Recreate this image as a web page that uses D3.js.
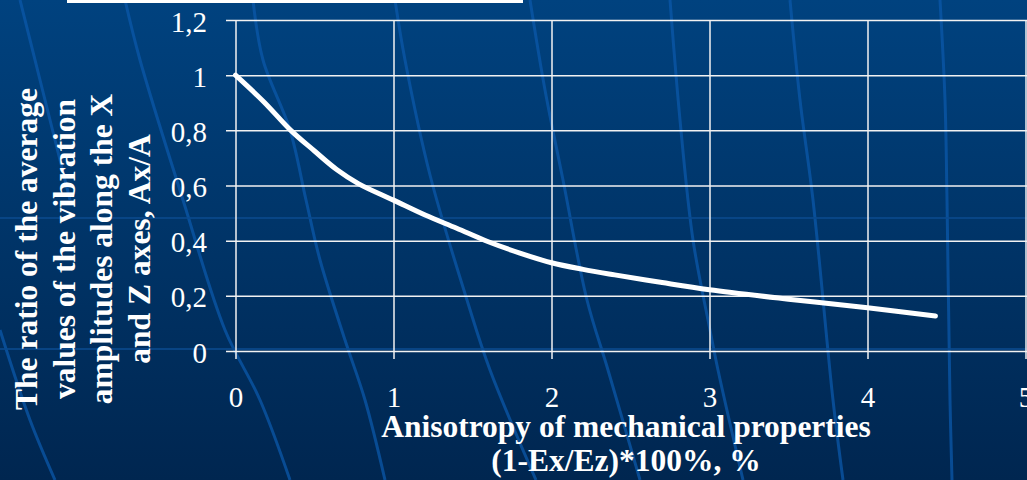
<!DOCTYPE html>
<html>
<head>
<meta charset="utf-8">
<script src="https://cdn.jsdelivr.net/npm/d3@7"></script>
<style>
  html, body { margin: 0; padding: 0; background: #003466; }
  svg { display: block; }
</style>
</head>
<body>
<svg id="chart" width="1027" height="480"></svg>
<script>
// ---- data ----
const anisotropy = [0, 0.18, 0.35, 0.5, 0.64, 0.78, 1.0, 1.2, 1.4, 1.6, 1.8, 2.0, 2.2, 2.4, 2.7, 3.0, 3.5, 4.0, 4.43];
const ratio      = [1.0, 0.903, 0.80, 0.725, 0.658, 0.606, 0.547, 0.493, 0.445, 0.396, 0.355, 0.320, 0.296, 0.276, 0.248, 0.222, 0.188, 0.157, 0.127];
const xTicks = [0, 1, 2, 3, 4, 5];
const xTickLabels = ["0", "1", "2", "3", "4", "5"];
const yTicks = [0, 0.2, 0.4, 0.6, 0.8, 1.0, 1.2];
const yTickLabels = ["0", "0,2", "0,4", "0,6", "0,8", "1", "1,2"];
const yTitleLines = ["The ratio of the average", "values of the vibration", "amplitudes along the X", "and Z axes, Ax/A"];
const xTitleLines = ["Anisotropy of mechanical properties", "(1-Ex/Ez)*100%, %"];

// decorative background streaks (slide template)
const streaks = [
  [[125,0],[140,60],[183,200],[225,330],[260,400],[290,480]],
  [[253,0],[263,60],[290,130],[306,200],[320,260],[345,340],[365,400],[385,480]],
  [[395,0],[405,60],[430,175],[467,300],[490,370],[536,480]],
  [[530,0],[545,90],[563,180],[587,300],[608,370],[640,480]],
  [[670,0],[680,120],[693,240],[710,330],[718,370],[743,480]],
  [[790,0],[800,100],[813,200],[833,400],[843,480]],
  [[940,0],[945,100],[947,200],[950,400],[952,480]],
  [[0,330],[30,420],[55,480]],
  [[20,0],[40,80],[70,200]]
];

const W = 1027, H = 480;
const svg = d3.select("#chart");

// background
const defs = svg.append("defs");
const grad = defs.append("linearGradient").attr("id", "bg").attr("x1", 0).attr("y1", 0).attr("x2", 0).attr("y2", 1);
grad.append("stop").attr("offset", "0%").attr("stop-color", "#00427f");
grad.append("stop").attr("offset", "100%").attr("stop-color", "#002650");
svg.append("rect").attr("width", W).attr("height", H).attr("fill", "url(#bg)");

const lineGen = d3.line().curve(d3.curveCatmullRom);
svg.append("g").selectAll("path").data(streaks).join("path")
  .attr("d", d => lineGen(d))
  .attr("fill", "none")
  .attr("stroke", "#0b58aa")
  .attr("stroke-width", 3)
  .attr("opacity", 0.75);

svg.append("g").selectAll("line").data([218, 349]).join("line")
  .attr("x1", 0).attr("x2", W).attr("y1", d => d).attr("y2", d => d)
  .attr("stroke", "#0a4a8e").attr("stroke-width", 2).attr("opacity", 0.8);

// top white strip
svg.append("rect").attr("x", 67).attr("y", 0).attr("width", 456).attr("height", 3).attr("fill", "#ffffff");

// scales
const x = d3.scaleLinear().domain([0, 5]).range([235.5, 1025.5]);
const y = d3.scaleLinear().domain([0, 1.2]).range([351, 20]);

const font = "'Liberation Serif', 'Times New Roman', serif";

// y axis with gridlines
const yAxis = d3.axisLeft(y)
  .tickValues(yTicks)
  .tickFormat((d, i) => yTickLabels[i])
  .tickSize(-(W - 226))
  .tickPadding(19);
const gy = svg.append("g").attr("transform", "translate(226,0)").call(yAxis);
gy.select(".domain").remove();
gy.selectAll(".tick line").attr("stroke", "#f2f2f2").attr("stroke-width", 1.5);
gy.selectAll(".tick text")
  .attr("fill", "#ffffff")
  .attr("font-family", font)
  .attr("font-size", 29)
  .attr("dy", "0.38em");

// x axis with gridlines
const xAxis = d3.axisBottom(x)
  .tickValues(xTicks)
  .tickFormat((d, i) => xTickLabels[i])
  .tickSize(-(359 - 20))
  .tickPadding(27);
const gx = svg.append("g").attr("transform", "translate(0,359)").call(xAxis);
gx.select(".domain").remove();
gx.selectAll(".tick line").attr("stroke", "#f2f2f2").attr("stroke-width", 1.5);
gx.selectAll(".tick text")
  .attr("fill", "#ffffff")
  .attr("font-family", font)
  .attr("font-size", 29);

// data line
const pts = anisotropy.map((a, i) => [a, ratio[i]]);
const curve = d3.line()
  .x(d => x(d[0]))
  .y(d => y(d[1]))
  .curve(d3.curveCatmullRom.alpha(0.5));
svg.append("path")
  .datum(pts)
  .attr("d", curve)
  .attr("fill", "none")
  .attr("stroke", "#ffffff")
  .attr("stroke-width", 5)
  .attr("stroke-linecap", "round")
  .attr("stroke-linejoin", "round");

// y title
const yBase = [37, 75, 112, 150];
svg.append("g").selectAll("text").data(yTitleLines).join("text")
  .attr("transform", (d, i) => `translate(${yBase[i]},249) rotate(-90)`)
  .attr("text-anchor", "middle")
  .attr("fill", "#ffffff")
  .attr("font-family", font)
  .attr("font-weight", "bold")
  .attr("font-size", 31.5)
  .text(d => d);

// x title
const xBase = [437, 471];
svg.append("g").selectAll("text").data(xTitleLines).join("text")
  .attr("x", 626)
  .attr("y", (d, i) => xBase[i])
  .attr("text-anchor", "middle")
  .attr("fill", "#ffffff")
  .attr("font-family", font)
  .attr("font-weight", "bold")
  .attr("font-size", 31.5)
  .text(d => d);
</script>
</body>
</html>
